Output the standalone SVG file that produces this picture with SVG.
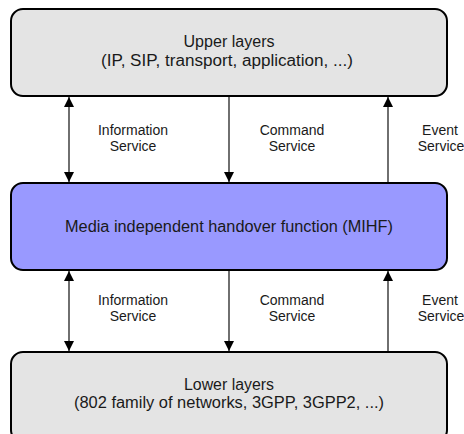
<svg xmlns="http://www.w3.org/2000/svg" width="464" height="434" viewBox="0 0 464 434">
  <defs>
    <marker id="ah" viewBox="0 0 10 10" refX="10" refY="5" markerWidth="10" markerHeight="10" markerUnits="userSpaceOnUse" orient="auto-start-reverse">
      <path d="M0,0 L10,5 L0,10 z" fill="#000"/>
    </marker>
    <style>
      .box { stroke: #000; stroke-width: 2; }
      .layer { fill: #e4e4e4; }
      .mihf { fill: #9999ff; }
      .t { font-family: "Liberation Sans", Arial, sans-serif; fill: #1a1a1a; text-anchor: middle; }
      .big { font-size: 16px; }
      .small { font-size: 14px; }
      .link { stroke: #222; stroke-width: 1.3; fill: none; }
    </style>
  </defs>
  <rect width="464" height="434" fill="#fff"/>

  <g id="upper">
    <rect class="box layer" x="11" y="9" width="436" height="87" rx="12"/>
    <text class="t big" x="229" y="47" textLength="91" lengthAdjust="spacingAndGlyphs">Upper layers</text>
    <text class="t big" x="227" y="66" textLength="252" lengthAdjust="spacingAndGlyphs">(IP, SIP, transport, application, ...)</text>
  </g>

  <g id="mihf">
    <rect class="box mihf" x="11" y="183" width="436" height="87" rx="12"/>
    <text class="t big" x="229" y="232" textLength="328" lengthAdjust="spacingAndGlyphs">Media independent handover function (MIHF)</text>
  </g>

  <g id="lower">
    <rect class="box layer" x="11" y="352" width="436" height="90" rx="12"/>
    <text class="t big" x="229" y="390" textLength="90" lengthAdjust="spacingAndGlyphs">Lower layers</text>
    <text class="t big" x="229" y="408" textLength="310" lengthAdjust="spacingAndGlyphs">(802 family of networks, 3GPP, 3GPP2, ...)</text>
  </g>

  <g id="connectors">
    <line class="link" x1="69" y1="97" x2="69" y2="182" marker-start="url(#ah)" marker-end="url(#ah)"/>
    <line class="link" x1="229" y1="97" x2="229" y2="182" marker-end="url(#ah)"/>
    <line class="link" x1="388" y1="182" x2="388" y2="97" marker-end="url(#ah)"/>
    <line class="link" x1="69" y1="271" x2="69" y2="351" marker-start="url(#ah)" marker-end="url(#ah)"/>
    <line class="link" x1="229" y1="271" x2="229" y2="351" marker-end="url(#ah)"/>
    <line class="link" x1="388" y1="351" x2="388" y2="271" marker-end="url(#ah)"/>
  </g>

  <g id="labels">
    <text class="t small" x="133" y="135">Information</text>
    <text class="t small" x="133" y="151">Service</text>
    <text class="t small" x="292" y="135">Command</text>
    <text class="t small" x="292" y="151">Service</text>
    <text class="t small" x="440" y="135">Event</text>
    <text class="t small" x="441" y="151">Service</text>
    <text class="t small" x="133" y="305">Information</text>
    <text class="t small" x="133" y="321">Service</text>
    <text class="t small" x="292" y="305">Command</text>
    <text class="t small" x="292" y="321">Service</text>
    <text class="t small" x="440" y="305">Event</text>
    <text class="t small" x="441" y="321">Service</text>
  </g>
</svg>
